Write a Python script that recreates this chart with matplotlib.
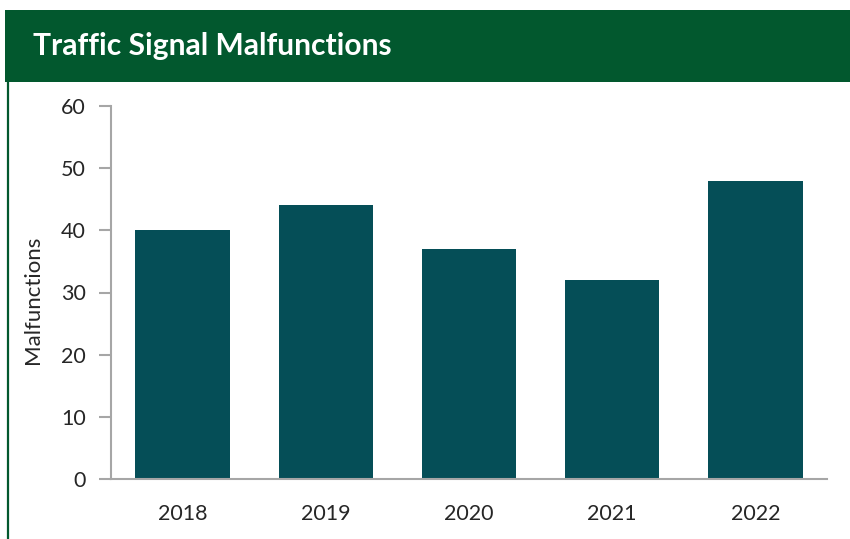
import matplotlib
matplotlib.use("Agg")
import matplotlib.pyplot as plt
from matplotlib.patches import Rectangle
from matplotlib.lines import Line2D

years = ["2018", "2019", "2020", "2021", "2022"]
malfunctions = [40, 44, 37, 32, 48]
y_ticks = [0, 10, 20, 30, 40, 50, 60]

HEADER_GREEN = "#02582e"
BAR_COLOR = "#054e57"
AXIS_GREY = "#a6a6a6"
TEXT = "#262626"

plt.rcParams["font.family"] = ["Lato", "DejaVu Sans"]

fig = plt.figure(figsize=(8.5, 5.39), dpi=100)
fig.patch.set_facecolor("white")

# header band with title
fig.patches.append(Rectangle((5 / 850, 1 - 82 / 539), 1 - 5 / 850, 72 / 539,
                             transform=fig.transFigure, facecolor=HEADER_GREEN,
                             edgecolor="none", zorder=0))
fig.lines.append(Line2D([7.5 / 850, 7.5 / 850], [0, 1 - 82 / 539],
                        transform=fig.transFigure, color=HEADER_GREEN, lw=1.6))
fig.text(33 / 850, 1 - 46 / 539, "Traffic Signal Malfunctions", color="white",
         fontsize=21.6, fontweight="bold", va="center", ha="left")

ax = fig.add_axes([111 / 850, 1 - 479 / 539, (827 - 111) / 850, (479 - 106) / 539])
x = range(len(years))
ax.bar(x, malfunctions, width=0.66, color=BAR_COLOR, zorder=2)

ax.set_xlim(-0.5, 4.5)
ax.set_ylim(0, 60)
ax.set_yticks(y_ticks)
ax.set_xticks(list(x))
ax.set_xticklabels(years)

for side in ("top", "right"):
    ax.spines[side].set_visible(False)
for side in ("left", "bottom"):
    ax.spines[side].set_color(AXIS_GREY)
    ax.spines[side].set_linewidth(1.5)

ax.tick_params(axis="y", length=9, width=1.5, color=AXIS_GREY, pad=9,
               labelsize=15.5, labelcolor=TEXT)
ax.tick_params(axis="x", length=0, pad=18, labelsize=15.5, labelcolor=TEXT)
ax.set_ylabel("Malfunctions", fontsize=16, color=TEXT, labelpad=6)
ax.yaxis.set_label_coords(-0.095, 0.48)

fig.savefig("out.png", dpi=100, facecolor="white")
